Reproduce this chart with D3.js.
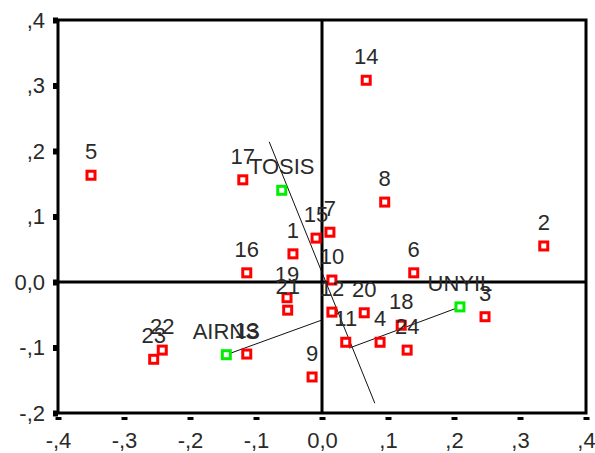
<!DOCTYPE html>
<html>
<head>
<meta charset="utf-8">
<script src="https://cdn.jsdelivr.net/npm/d3@7"></script>
<style>
  body { margin: 0; background: #fff; }
  svg text { font-family: "Liberation Sans", Arial, sans-serif; font-size: 22px; fill: #2a2a2a; }
</style>
</head>
<body>
<svg width="595" height="453"></svg>
<script>
// case points (red)
const caseLabels = ['1','2','3','4','5','6','7','8','9','10','11','12',
    '13','14','15','16','17','18','19','20','21','22','23','24'];
const caseX = [-0.044, 0.336, 0.247, 0.088, -0.350, 0.139, 0.012, 0.095, -0.015, 0.015, 0.036, 0.015,
    -0.114, 0.067, -0.009, -0.114, -0.120, 0.120, -0.053, 0.064, -0.052, -0.242, -0.255, 0.129];
const caseY = [0.043, 0.055, -0.053, -0.092, 0.163, 0.014, 0.076, 0.122, -0.145, 0.003, -0.092, -0.046,
    -0.110, 0.308, 0.067, 0.014, 0.156, -0.066, -0.024, -0.047, -0.043, -0.104, -0.118, -0.104];

// variable points (green)
const varLabels = ['TOSIS', 'UNYIL', 'AIRNS'];
const varX = [-0.061, 0.209, -0.145];
const varY = [0.140, -0.038, -0.111];

// drawn lines: [x1, y1, x2, y2]
const lineTOSIS = [-0.080, 0.214, 0.080, -0.185];
const lineAIRNS = [-0.145, -0.111, 0.0, -0.058];
const lineUNYIL = [0.041, -0.101, 0.209, -0.038];

const xTicks = [-0.4, -0.3, -0.2, -0.1, 0, 0.1, 0.2, 0.3, 0.4];
const xTickLabels = ['-,4', '-,3', '-,2', '-,1', '0,0', ',1', ',2', ',3', ',4'];
const yTicks = [-0.2, -0.1, 0, 0.1, 0.2, 0.3, 0.4];
const yTickLabels = ['-,2', '-,1', '0,0', ',1', ',2', ',3', ',4'];

const svg = d3.select('svg');

const x = d3.scaleLinear().domain([-0.4, 0.4]).range([58, 586]);
const y = d3.scaleLinear().domain([-0.2, 0.4]).range([413, 20]);

// axes (ticks as small blocks, labels)
const yAxisG = svg.append('g')
    .attr('transform', `translate(${x(-0.4)},0)`)
    .call(d3.axisLeft(y).tickValues(yTicks)
        .tickFormat((d, i) => yTickLabels[i])
        .tickSize(5).tickPadding(8));
yAxisG.select('.domain').remove();
yAxisG.selectAll('.tick line').attr('stroke', '#000').attr('stroke-width', 6);
yAxisG.selectAll('.tick text').attr('font-size', null).attr('font-family', null);

const xAxisG = svg.append('g')
    .attr('transform', `translate(0,${y(-0.2)})`)
    .call(d3.axisBottom(x).tickValues(xTicks)
        .tickFormat((d, i) => xTickLabels[i])
        .tickSize(7));
xAxisG.select('.domain').remove();
xAxisG.selectAll('.tick line').attr('y1', 4).attr('stroke', '#000').attr('stroke-width', 6);
xAxisG.selectAll('.tick text').attr('y', 35).attr('dy', 0)
    .attr('font-size', null).attr('font-family', null);
svg.selectAll('.tick text').attr('fill', null);

// frame
svg.append('rect')
    .attr('x', x(-0.4)).attr('y', y(0.4))
    .attr('width', x(0.4) - x(-0.4)).attr('height', y(-0.2) - y(0.4))
    .attr('fill', 'none').attr('stroke', '#000').attr('stroke-width', 3);

// zero lines
svg.append('line')
    .attr('x1', x(-0.4)).attr('x2', x(0.4)).attr('y1', y(0)).attr('y2', y(0))
    .attr('stroke', '#000').attr('stroke-width', 3);
svg.append('line')
    .attr('x1', x(0)).attr('x2', x(0)).attr('y1', y(0.4)).attr('y2', y(-0.2))
    .attr('stroke', '#000').attr('stroke-width', 3);

// thin lines
[lineTOSIS, lineAIRNS, lineUNYIL].forEach(l => {
    svg.append('line')
        .attr('x1', x(l[0])).attr('y1', y(l[1]))
        .attr('x2', x(l[2])).attr('y2', y(l[3]))
        .attr('stroke', '#111').attr('stroke-width', 1);
});

const drawPoints = (labels, xs, ys, color) => {
    const g = svg.append('g');
    labels.forEach((lab, i) => {
        g.append('rect')
            .attr('x', x(xs[i]) - 4).attr('y', y(ys[i]) - 4)
            .attr('width', 8).attr('height', 8)
            .attr('fill', '#fff').attr('stroke', color).attr('stroke-width', 3);
        g.append('text')
            .attr('x', x(xs[i])).attr('y', y(ys[i]) - 16)
            .attr('text-anchor', 'middle')
            .text(lab);
    });
};

drawPoints(caseLabels, caseX, caseY, '#ff0000');
drawPoints(varLabels, varX, varY, '#00ee00');
</script>
</body>
</html>
